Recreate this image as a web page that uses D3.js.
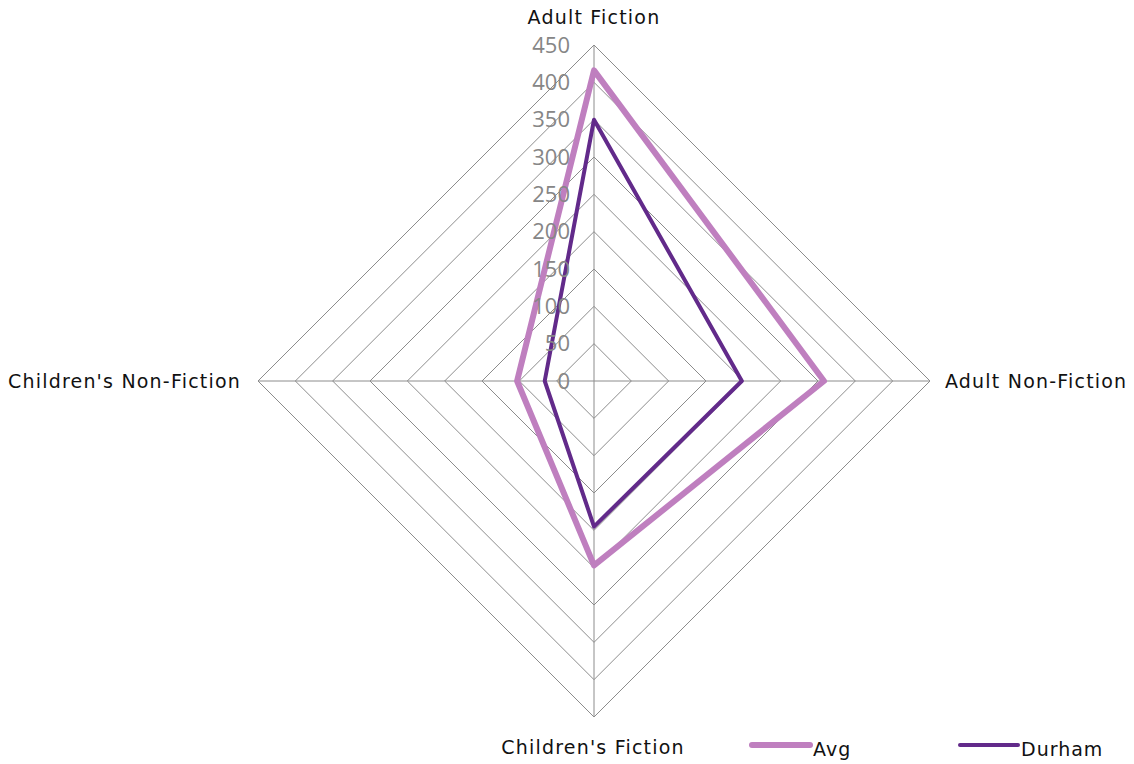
<!DOCTYPE html>
<html><head><meta charset="utf-8">
<script src="https://cdn.jsdelivr.net/npm/d3@7"></script>
<style>body{margin:0;background:#fff}svg{display:block}</style>
</head><body>
<svg id="c" width="1134" height="764"></svg>
<script>
const categories = ["Adult Fiction", "Adult Non-Fiction", "Children's Fiction", "Children's Non-Fiction"];
const seriesNames = ["Avg", "Durham"];
const avgValues = [416, 308, 247, 103];
const durhamValues = [350, 198, 195, 66];
const tickValues = [0, 50, 100, 150, 200, 250, 300, 350, 400, 450];
const colors = ["#BF7FBF", "#622A8A"];
const widths = [6, 4];

const svg = d3.select("#c");
const cx = 594, cy = 381, R = 336;
const r = d3.scaleLinear().domain([0, 450]).range([0, R]);
const angle = i => -Math.PI / 2 + i * 2 * Math.PI / categories.length;
const pt = (i, v) => [cx + r(v) * Math.cos(angle(i)), cy + r(v) * Math.sin(angle(i))];

const grid = svg.append("g");
tickValues.slice(1).forEach(t => {
  grid.append("path")
    .attr("d", d3.line()(categories.map((c, i) => pt(i, t))) + "Z")
    .attr("fill", "none").attr("stroke", "#8c8c8c").attr("stroke-width", 1);
});
categories.forEach((c, i) => {
  const p = pt(i, 450);
  grid.append("line").attr("x1", cx).attr("y1", cy).attr("x2", p[0]).attr("y2", p[1])
    .attr("stroke", "#8c8c8c").attr("stroke-width", 1);
});

const series = [avgValues, durhamValues];
series.forEach((vals, s) => {
  svg.append("path")
    .attr("d", d3.line()(vals.map((v, i) => pt(i, v))) + "Z")
    .attr("fill", "none").attr("stroke", colors[s]).attr("stroke-width", widths[s])
    .attr("stroke-linejoin", "round");
});

// tick labels
svg.append("g").selectAll("text").data(tickValues).join("text")
  .attr("x", cx - 24).attr("y", d => cy - r(d))
  .attr("dy", "0.35em").attr("text-anchor", "end")
  .style("font-family", "'Open Sans', 'Liberation Sans', sans-serif")
  .style("font-size", "22px").attr("fill", "#868686").text(d => d);

// category labels
const catFont = "DejaVu Sans";
const labelPos = [
  {x: cx, y: 24, a: "middle"},
  {x: 945, y: cy + 7, a: "start"},
  {x: cx - 1, y: 754, a: "middle"},
  {x: 241, y: cy + 7, a: "end"}
];
categories.forEach((c, i) => {
  svg.append("text").attr("x", labelPos[i].x).attr("y", labelPos[i].y)
    .attr("text-anchor", labelPos[i].a)
    .style("font-family", catFont).style("font-size", "19px").style("letter-spacing", "1.2px")
    .attr("fill", "#111")
    .text(c);
});

// legend
const legX = [752, 960];
seriesNames.forEach((n, s) => {
  svg.append("line").attr("x1", legX[s]).attr("x2", legX[s] + 58).attr("y1", 745).attr("y2", 745)
    .attr("stroke", colors[s]).attr("stroke-width", widths[s]).attr("stroke-linecap", "round");
  svg.append("text").attr("x", legX[s] + 61).attr("y", 756)
    .style("font-family", catFont).style("font-size", "19px").style("letter-spacing", "1px")
    .attr("fill", "#111").text(n);
});
</script>
</body></html>
